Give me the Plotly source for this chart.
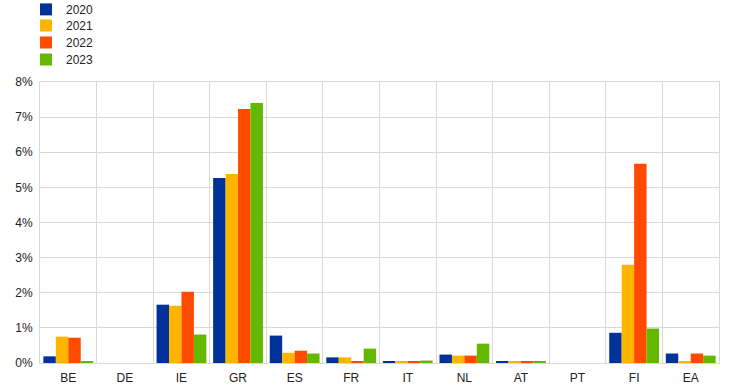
import plotly.graph_objects as go

categories = ["BE", "DE", "IE", "GR", "ES", "FR", "IT", "NL", "AT", "PT", "FI", "EA"]
v2020 = [0.19, 0.0, 1.66, 5.27, 0.78, 0.16, 0.04, 0.24, 0.04, 0.0, 0.86, 0.27]
v2021 = [0.75, 0.0, 1.63, 5.38, 0.29, 0.16, 0.04, 0.21, 0.04, 0.0, 2.80, 0.04]
v2022 = [0.72, 0.0, 2.03, 7.23, 0.35, 0.04, 0.04, 0.21, 0.04, 0.0, 5.67, 0.27]
v2023 = [0.04, 0.0, 0.81, 7.40, 0.27, 0.41, 0.07, 0.55, 0.04, 0.0, 0.98, 0.21]
series_names = ["2020", "2021", "2022", "2023"]
colors = ["#003299", "#ffb400", "#ff4b00", "#65b800"]

legend_ids = ["legend", "legend2", "legend3", "legend4"]
legend_ys = [1.310, 1.2527, 1.1922, 1.1317]

fig = go.Figure()
for name, vals, c, lid in zip(series_names, [v2020, v2021, v2022, v2023], colors, legend_ids):
    fig.add_trace(go.Bar(x=categories, y=vals, name=name, marker_color=c,
                         marker_line_width=0, legend=lid))

grid = "#d9d9d9"
legend_common = dict(x=-0.0206, xanchor="left", yanchor="top",
                     bgcolor="rgba(0,0,0,0)", font=dict(size=12), itemwidth=30)
fig.update_layout(
    width=744, height=390,
    margin=dict(l=40, r=25, t=82, b=27, autoexpand=False),
    paper_bgcolor="white", plot_bgcolor="white",
    barmode="group", bargap=0.12, bargroupgap=0,
    font=dict(family="Liberation Sans, Arial, sans-serif", size=12, color="#222222"),
    showlegend=True,
    xaxis=dict(type="category", tickson="boundaries", showgrid=True,
               gridcolor=grid, gridwidth=1, ticks="", showline=True,
               linecolor=grid, mirror=True, tickfont=dict(size=12),
               range=[-0.5, 11.5], ticklabelstandoff=4),
    yaxis=dict(range=[0, 8], dtick=1, ticksuffix="%", showgrid=True,
               gridcolor=grid, gridwidth=1, zeroline=False, showline=True,
               linecolor=grid, mirror=True, ticks="", tickfont=dict(size=12),
               ticklabelstandoff=4),
)
for lid, ly in zip(legend_ids, legend_ys):
    fig.update_layout({lid: dict(legend_common, y=ly)})

fig.write_html("out.html", config={"displayModeBar": False},
               post_script="document.body.style.margin='0px';")
